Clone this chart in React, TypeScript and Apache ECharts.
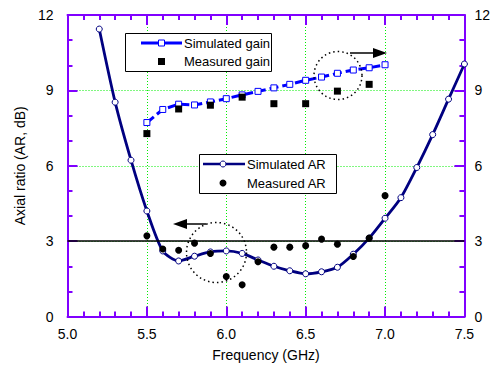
import React, { useEffect, useRef } from "react";
import * as echarts from "echarts";

const freqAR = [5.2, 5.3, 5.4, 5.5, 5.6, 5.7, 5.8, 5.9, 6.0, 6.1, 6.2, 6.3, 6.4, 6.5, 6.6, 6.7, 6.8, 6.9, 7.0, 7.1, 7.2, 7.3, 7.4, 7.5];
const simAR = [11.44, 8.53, 6.22, 4.2, 2.61, 2.21, 2.4, 2.57, 2.61, 2.51, 2.25, 2.0, 1.82, 1.7, 1.78, 1.96, 2.48, 3.12, 3.91, 4.73, 5.93, 7.24, 8.65, 10.05];
const freqMeasAR = [5.5, 5.6, 5.7, 5.8, 5.9, 6.0, 6.1, 6.2, 6.3, 6.4, 6.5, 6.6, 6.7, 6.8, 6.9, 7.0];
const measAR = [3.21, 2.69, 2.64, 2.92, 2.51, 1.59, 1.26, 2.18, 2.76, 2.76, 2.82, 3.08, 2.88, 2.39, 3.12, 4.81];
const freqGain = [5.5, 5.6, 5.7, 5.8, 5.9, 6.0, 6.1, 6.2, 6.3, 6.4, 6.5, 6.6, 6.7, 6.8, 6.9, 7.0];
const simGain = [7.72, 8.24, 8.45, 8.42, 8.54, 8.67, 8.82, 8.96, 9.1, 9.24, 9.4, 9.53, 9.68, 9.81, 9.9, 10.02];
const freqMeasGain = [5.5, 5.7, 5.9, 6.1, 6.3, 6.5, 6.7, 6.9];
const measGain = [7.28, 8.26, 8.41, 8.73, 8.47, 8.47, 8.97, 9.24];
const arThreshold = 3;

const pair = (xs: number[], ys: number[]) => xs.map((x, i) => [x, ys[i]]);

const AXIS_COLOR = "#8000ff";
const FONT = "'Liberation Sans', Arial, sans-serif";
const NARROW = "'Liberation Sans Narrow', 'Liberation Sans', Arial, sans-serif";

export default function App() {
  const ref = useRef<HTMLDivElement>(null);
  useEffect(() => {
    const chart = echarts.init(ref.current!, undefined, { renderer: "svg" });
    const xBase = {
      type: "value" as const,
      min: 5.0,
      max: 7.5,
      interval: 0.5,
      axisLine: { show: true, onZero: false, lineStyle: { color: AXIS_COLOR, width: 2 } },
      axisTick: { show: true, inside: true, length: 10, lineStyle: { color: AXIS_COLOR, width: 2 } },
      minorTick: { show: true, splitNumber: 5, length: 5, lineStyle: { color: AXIS_COLOR, width: 2 } },
    };
    const yBase = {
      type: "value" as const,
      min: 0,
      max: 12,
      interval: 3,
      axisLine: { show: true, onZero: false, lineStyle: { color: AXIS_COLOR, width: 2 } },
      axisTick: { show: true, inside: true, length: 10, lineStyle: { color: AXIS_COLOR, width: 2 } },
      minorTick: { show: true, splitNumber: 3, length: 5, lineStyle: { color: AXIS_COLOR, width: 2 } },
    };
    const legendText = { fill: "#000", fontSize: 13, fontFamily: NARROW };
    chart.setOption({
      animation: false,
      backgroundColor: "#fff",
      grid: { left: 67.5, right: 26.5, top: 15, bottom: 53.5, containLabel: false },
      xAxis: [
        {
          ...xBase,
          position: "bottom",
          name: "Frequency (GHz)",
          nameLocation: "middle",
          nameGap: 31,
          nameTextStyle: { color: "#000", fontSize: 14, fontFamily: FONT },
          axisLabel: { color: "#000", fontSize: 14, fontFamily: FONT, margin: 10, formatter: (v: number) => v.toFixed(1) },
          splitLine: { show: true, lineStyle: { color: "#00ee00", type: [1, 2], width: 1 } },
        },
        { ...xBase, position: "top", axisLabel: { show: false }, splitLine: { show: false } },
      ],
      yAxis: [
        {
          ...yBase,
          position: "left",
          name: "Axial ratio (AR, dB)",
          nameLocation: "middle",
          nameGap: 40,
          nameTextStyle: { color: "#000", fontSize: 14, fontFamily: FONT },
          axisLabel: { color: "#000", fontSize: 14, fontFamily: FONT, margin: 14 },
          splitLine: { show: true, lineStyle: { color: "#00ee00", type: [1, 2], width: 1 } },
        },
        {
          ...yBase,
          position: "right",
          axisLabel: { color: "#000", fontSize: 14, fontFamily: FONT, margin: 10 },
          splitLine: { show: false },
        },
      ],
      series: [
        {
          name: "Simulated gain",
          type: "line",
          yAxisIndex: 1,
          data: pair(freqGain, simGain),
          symbol: "rect",
          symbolSize: 6,
          lineStyle: { color: "#0000ff", width: 3, type: [9, 4] },
          itemStyle: { color: "#fff", borderColor: "#0000ff", borderWidth: 1 },
          z: 3,
        },
        {
          name: "Measured gain",
          type: "scatter",
          yAxisIndex: 1,
          data: pair(freqMeasGain, measGain),
          symbol: "rect",
          symbolSize: 7,
          itemStyle: { color: "#000", opacity: 1 },
          z: 4,
        },
        {
          name: "Simulated AR",
          type: "line",
          data: pair(freqAR, simAR),
          smooth: 0.25,
          symbol: "circle",
          symbolSize: 6,
          lineStyle: { color: "#000080", width: 2.8 },
          itemStyle: { color: "#fff", borderColor: "#000080", borderWidth: 1 },
          z: 3,
          markLine: {
            silent: true,
            symbol: "none",
            label: { show: false },
            lineStyle: { color: "#000", width: 1.5, type: "solid" },
            data: [{ yAxis: arThreshold }],
          },
        },
        {
          name: "Measured AR",
          type: "scatter",
          data: pair(freqMeasAR, measAR),
          symbol: "circle",
          symbolSize: 7,
          itemStyle: { color: "#000", opacity: 1 },
          z: 4,
        },
      ],
      graphic: [
        // legend 1
        { type: "rect", shape: { x: 125.5, y: 33.5, width: 146, height: 38 }, style: { fill: "#fff", stroke: "#000", lineWidth: 1 }, z: 10 },
        { type: "line", shape: { x1: 141, y1: 43, x2: 182, y2: 43 }, style: { stroke: "#0000ff", lineWidth: 3 }, z: 11 },
        { type: "rect", shape: { x: 158.5, y: 40, width: 6, height: 6 }, style: { fill: "#fff", stroke: "#0000ff", lineWidth: 1 }, z: 12 },
        { type: "text", style: { x: 184, y: 43, text: "Simulated gain", verticalAlign: "middle", ...legendText }, z: 12 },
        { type: "rect", shape: { x: 158, y: 58, width: 7, height: 7 }, style: { fill: "#000" }, z: 12 },
        { type: "text", style: { x: 184, y: 61, text: "Measured gain", verticalAlign: "middle", ...legendText }, z: 12 },
        // legend 2
        { type: "rect", shape: { x: 199.5, y: 154.5, width: 137, height: 39 }, style: { fill: "#fff", stroke: "#000", lineWidth: 1 }, z: 10 },
        { type: "line", shape: { x1: 203, y1: 164, x2: 245, y2: 164 }, style: { stroke: "#000080", lineWidth: 2.5 }, z: 11 },
        { type: "circle", shape: { cx: 223, cy: 164, r: 3 }, style: { fill: "#fff", stroke: "#000080", lineWidth: 1 }, z: 12 },
        { type: "text", style: { x: 247, y: 164, text: "Simulated AR", verticalAlign: "middle", ...legendText }, z: 12 },
        { type: "circle", shape: { cx: 223, cy: 183, r: 3.5 }, style: { fill: "#000" }, z: 12 },
        { type: "text", style: { x: 247, y: 183, text: "Measured AR", verticalAlign: "middle", ...legendText }, z: 12 },
        // annotations
        { type: "circle", shape: { cx: 338, cy: 75.5, r: 24 }, style: { fill: "none", stroke: "#000", lineWidth: 1.5, lineDash: [1.5, 3] }, z: 9 },
        { type: "line", shape: { x1: 350, y1: 53, x2: 376, y2: 53 }, style: { stroke: "#000", lineWidth: 1.5 }, z: 9 },
        { type: "polygon", shape: { points: [[387, 53], [373, 48], [373, 58]] }, style: { fill: "#000" }, z: 9 },
        { type: "circle", shape: { cx: 216.5, cy: 252.5, r: 30 }, style: { fill: "none", stroke: "#000", lineWidth: 1.5, lineDash: [1.5, 3] }, z: 9 },
        { type: "line", shape: { x1: 206, y1: 224, x2: 184, y2: 224 }, style: { stroke: "#000", lineWidth: 1.5 }, z: 9 },
        { type: "polygon", shape: { points: [[173, 224], [187, 219], [187, 229]] }, style: { fill: "#000" }, z: 9 },
      ],
    });
    return () => chart.dispose();
  }, []);
  return <div ref={ref} style={{ width: 493, height: 370, position: "absolute", left: 0, top: 0 }} />;
}
